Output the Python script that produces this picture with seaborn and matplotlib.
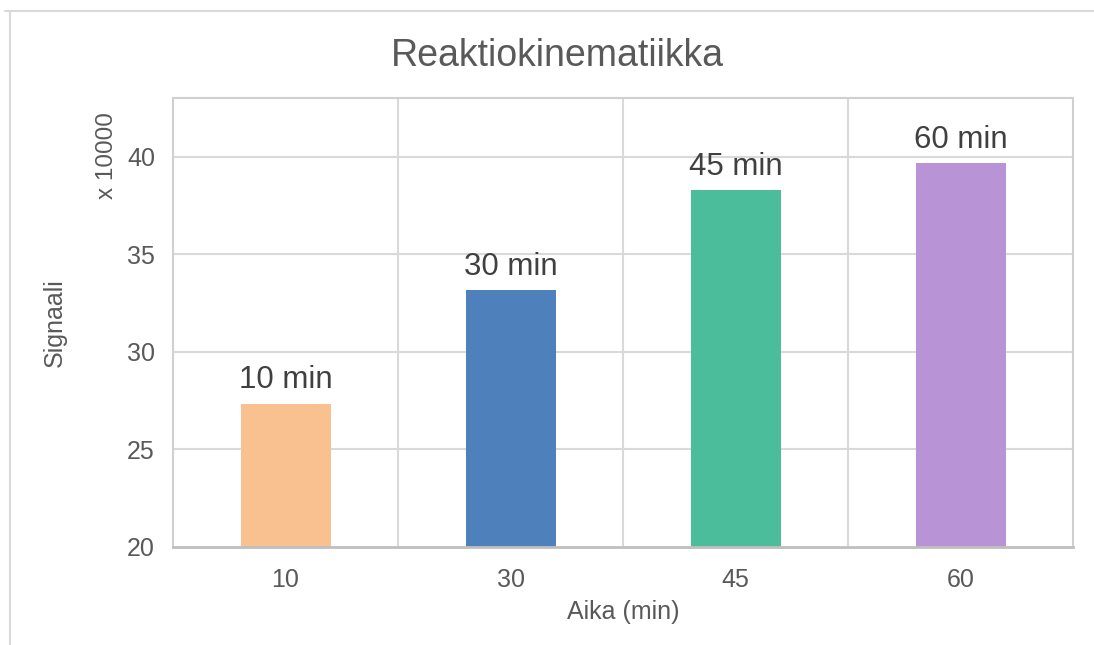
import matplotlib
matplotlib.use("Agg")
import matplotlib.pyplot as plt
from matplotlib.lines import Line2D
import seaborn as sns
import pandas as pd

# Reaction time points (minutes) and measured signal (in units of 10 000)
times = ["10", "30", "45", "60"]
signal = [27.35, 33.15, 38.27, 39.65]
bar_labels = ["10 min", "30 min", "45 min", "60 min"]
bar_colors = ["#F9C18F", "#4E80BC", "#4CBD9B", "#B893D6"]

sns.set_theme(style="white")
plt.rcParams["font.family"] = ["Liberation Sans", "DejaVu Sans"]

df = pd.DataFrame({"Aika": times, "Signaali": signal})

fig = plt.figure(figsize=(10.94, 6.45), dpi=100)
ax = fig.add_axes([173 / 1094, 1 - 547 / 645, 900 / 1094, 449 / 645])

sns.barplot(data=df, x="Aika", y="Signaali", hue="Aika", palette=bar_colors,
            width=0.4, legend=False, ax=ax, saturation=1, linewidth=0)

ax.set_ylim(20, 43)
ax.set_xlim(-0.5, len(times) - 0.5)
ax.set_yticks([20, 25, 30, 35, 40])

# gridlines: horizontal at ticks, vertical between categories
for y in [25, 30, 35, 40]:
    ax.axhline(y, color="#D9D9D9", lw=1.5, zorder=0)
for x in [0.5, 1.5, 2.5]:
    ax.axvline(x, color="#D9D9D9", lw=1.5, zorder=0)

for side in ["top", "right", "left"]:
    ax.spines[side].set_color("#D0D0D0")
    ax.spines[side].set_linewidth(1.5)
ax.spines["bottom"].set_color("#BFBFBF")
ax.spines["bottom"].set_linewidth(2)

ax.tick_params(axis="both", length=0, labelsize=18, colors="#595959")
ax.tick_params(axis="y", pad=13)
ax.tick_params(axis="x", pad=15)

for cont, lab in zip(ax.containers, bar_labels):
    ax.bar_label(cont, labels=[lab], padding=6, fontsize=22.5, color="#404040")

ax.set_xlabel("Aika (min)", fontsize=18, color="#595959")
ax.set_ylabel("Signaali", fontsize=18, color="#595959")
ax.xaxis.set_label_coords(0.5, (547 - 600) / 449)
ax.yaxis.set_label_coords((67 - 173) / 900, 0.5)

ax.text((107 - 173) / 900, (547 - 156) / 449, "x 10000", transform=ax.transAxes,
        rotation=90, ha="center", va="center", fontsize=17.5, color="#595959")

fig.text(557.5 / 1094, 1 - 56 / 645, "Reaktiokinematiikka", ha="center", va="center",
         fontsize=27, color="#595959")

# chart area frame
fig.add_artist(Line2D([5 / 1094, 1], [1 - 11 / 645, 1 - 11 / 645],
                      transform=fig.transFigure, color="#D9D9D9", lw=1.5))
fig.add_artist(Line2D([10 / 1094, 10 / 1094], [0, 1 - 11 / 645],
                      transform=fig.transFigure, color="#D9D9D9", lw=1.5))

fig.savefig("out.png", dpi=100)
